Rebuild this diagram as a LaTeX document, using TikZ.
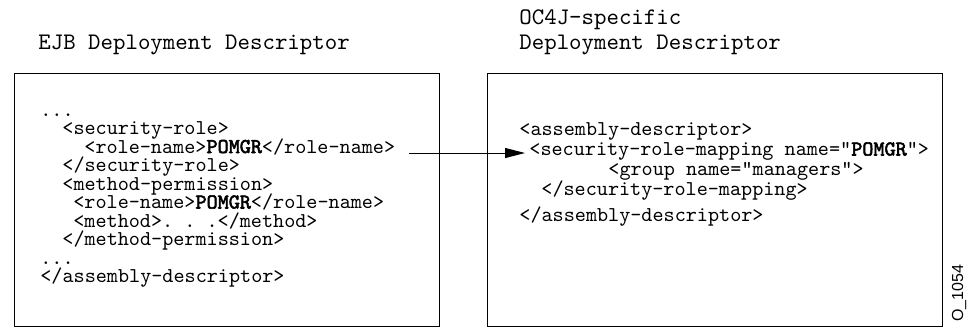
\documentclass[tikz,border=0pt]{standalone}
\usepackage{fontspec}
\setsansfont{Liberation Sans}
\setmonofont{lmmono10-regular.otf}[AutoFakeBold=2.5]
\usetikzlibrary{arrows.meta}

\begin{document}
\begin{tikzpicture}[x=0.5pt, y=-0.5pt,
		code/.style={anchor=base west, inner sep=0pt, font=\ttfamily\fontsize{10.57}{10.57}\selectfont},
		heading/.style={anchor=base west, inner sep=0pt, font=\ttfamily\fontsize{11.86}{12.5}\selectfont},
		frame/.style={draw=black, line width=0.65pt, anchor=north west, minimum height=126.5pt, inner sep=0pt},
		link/.style={-{Triangle[length=10pt, width=5pt]}, line width=0.5pt, black, shorten >=2pt}]
				
				\useasboundingbox (0,0) rectangle (967,328);
				
				\node[heading] (ejbtitle) at (38,49) {EJB Deployment Descriptor};
				
				\node[heading] (octitle) at (519,24) {OC4J-specific};
				
				\node[heading] (octitle2) at (519,49) {Deployment Descriptor};
				
				\node[frame, minimum width=212.5pt] (ejb) at (14,73) {};
				
				\node[frame, minimum width=227.5pt] (oc4j) at (487,73) {};
				
				\node[code] (dots1) at (40,116) {...};
				\node[code] (secrole) at (62,134.5) {<security-role>};
				\node[code] (rn) at (84,153) {<role-name>\textbf{POMGR}</role-name>};
				\node[code] (secroleend) at (62,171.5) {</security-role>};
				\node[code] (methperm) at (62,190) {<method-permission>};
				\node[code] (rn2) at (73,208.5) {<role-name>\textbf{POMGR}</role-name>};
				\node[code] (meth) at (73,227) {<method>. . .</method>};
				\node[code] (methpermend) at (62,245.5) {</method-permission>};
				\node[code] (dots2) at (40,264) {...};
				\node[code] (asmend) at (40,282.5) {</assembly-descriptor>};
				
				\node[code] (asm) at (519,135.5) {<assembly-descriptor>};
				\node[code] (srm) at (529,155.5) {<security-role-mapping name="\textbf{POMGR}">};
				\node[code] (grp) at (608,175.5) {<group name="managers">};
				\node[code] (srmend) at (541,195.5) {</security-role-mapping>};
				\node[code] (asmend2) at (519,221) {</assembly-descriptor>};
				
				\coordinate (from) at (409,153);
				
				\draw[link] (from) -- (from -| srm.west);
				
				\node[anchor=base west, inner sep=0pt, rotate=90, font=\sffamily\fontsize{8}{8}\selectfont] (figid) at (963,322) {O\_1054};
				
\end{tikzpicture}
\end{document}
